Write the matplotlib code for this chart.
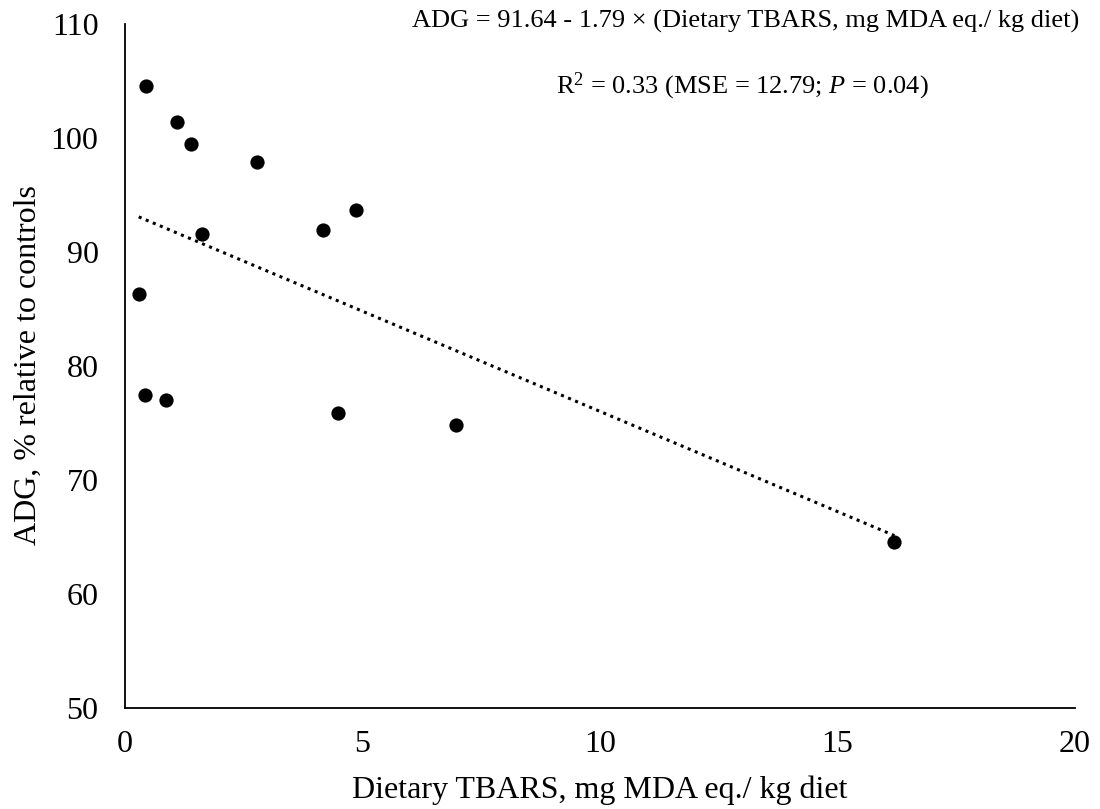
import numpy as np
import matplotlib
matplotlib.use("Agg")
import matplotlib.pyplot as plt

plt.rcParams['font.family'] = ['Liberation Serif', 'DejaVu Serif']
plt.rcParams['mathtext.fontset'] = 'custom'
plt.rcParams['mathtext.rm'] = 'Liberation Serif'
plt.rcParams['mathtext.it'] = 'Liberation Serif:italic'

# Data
tbars = [0.44, 1.09, 1.39, 2.77, 4.87, 4.16, 1.63, 0.29, 0.42, 0.86, 4.48, 6.97, 16.2]
adg = [104.6, 101.4, 99.5, 97.9, 93.7, 91.9, 91.6, 86.3, 77.5, 77.0, 75.85, 74.8, 64.6]
x_ticks = [0, 5, 10, 15, 20]
y_ticks = [50, 60, 70, 80, 90, 100, 110]
eq_text = "ADG = 91.64 - 1.79 \u00d7 (Dietary TBARS, mg MDA eq./ kg diet)"
r2_text = "R$^2$ = 0.33 (MSE = 12.79; $P$ = 0.04)"

fig = plt.figure(figsize=(11, 8.09), dpi=100)
ax = fig.add_axes([0.1136, 0.1248, 0.8636, 0.8455])

x = np.array(tbars)
y = np.array(adg)
ax.scatter(x, y, s=105, color='black', zorder=3, linewidths=0)

slope, intercept = np.polyfit(x, y, 1)
xl = np.array([x.min(), x.max()])
ax.plot(xl, intercept + slope * xl, color='black', lw=2.2,
        linestyle=(0, (1, 1.5)), zorder=2)

ax.set_xlim(0, 20)
ax.set_ylim(50, 110)
ax.set_xticks(x_ticks)
ax.set_yticks(y_ticks)
ax.tick_params(axis='both', length=0, labelsize=23)
ax.tick_params(axis='y', pad=19)
ax.tick_params(axis='x', pad=16)
for s in ['top', 'right']:
    ax.spines[s].set_visible(False)
for s in ['left', 'bottom']:
    ax.spines[s].set_linewidth(1.3)

ax.set_xlabel("Dietary TBARS, mg MDA eq./ kg diet", fontsize=23, va='baseline')
ax.xaxis.set_label_coords(0.5, -0.1316)
ax.set_ylabel("ADG, % relative to controls", fontsize=23, va='center')
ax.yaxis.set_label_coords(-(125 - 28) / 950, (708 - 365) / 684)

fig.text(0.6775, 1 - 28 / 809, eq_text, fontsize=19, ha='center', va='baseline')
fig.text(0.6745, 1 - 93 / 809, r2_text, fontsize=19, ha='center', va='baseline')

fig.savefig("out.png", dpi=100)
